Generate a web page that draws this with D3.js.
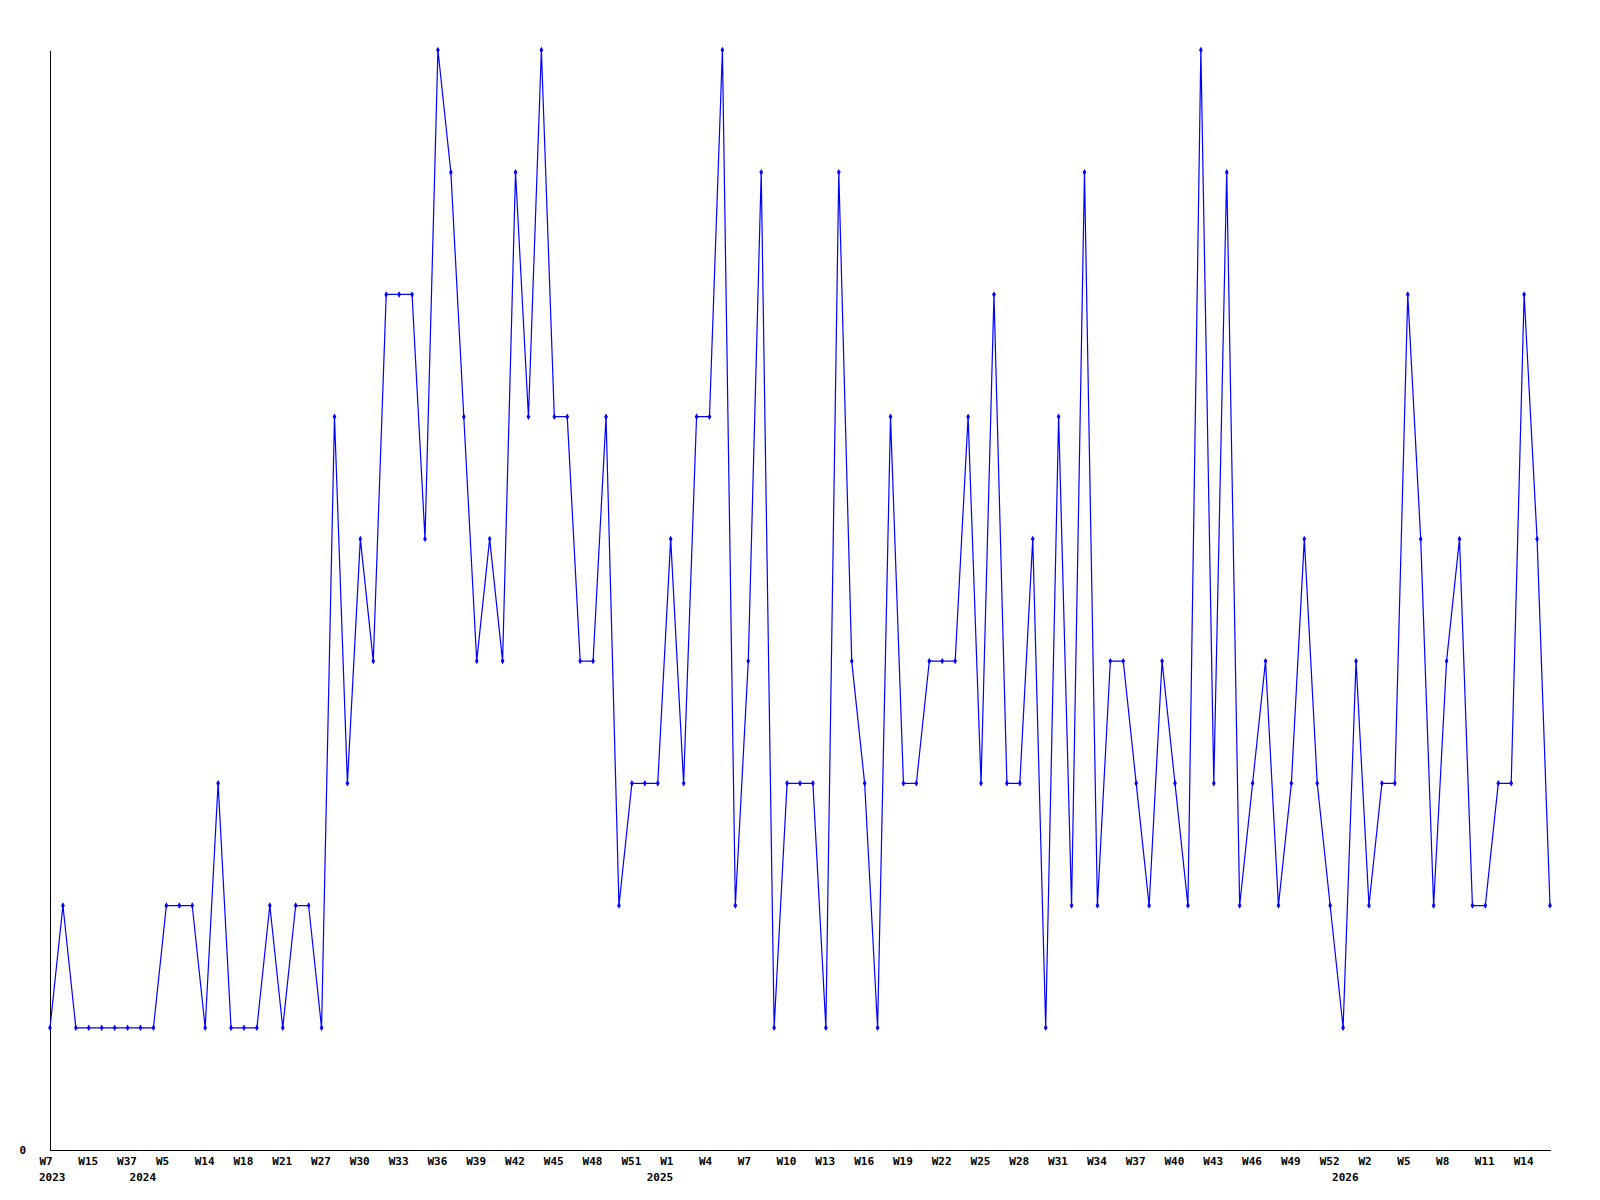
<!DOCTYPE html>
<html>
<head>
<meta charset="utf-8">
<script src="https://cdn.jsdelivr.net/npm/d3@7"></script>
<style>
  html, body { margin: 0; padding: 0; background: #fff; }
  svg { display: block; }
  text { font-family: "DejaVu Sans Mono", monospace; font-weight: bold; font-size: 11px; fill: #000; }
</style>
</head>
<body>
<svg id="chart" width="1600" height="1200"></svg>
<script>
// Categories: year-week of each point (only every third is labelled on the axis)
const categories = [
  "2023-W7","2023-W9","2023-W12","2023-W15","2023-W20","2023-W28","2023-W37",
  "2024-W1","2024-W3","2024-W5","2024-W8","2024-W11","2024-W14","2024-W16","2024-W17","2024-W18","2024-W19","2024-W20","2024-W21","2024-W23","2024-W25",
  "2024-W27","2024-W28","2024-W29","2024-W30","2024-W31","2024-W32","2024-W33","2024-W34","2024-W35","2024-W36","2024-W37","2024-W38","2024-W39","2024-W40","2024-W41",
  "2024-W42","2024-W43","2024-W44","2024-W45","2024-W46","2024-W47","2024-W48","2024-W49","2024-W50","2024-W51","2024-W52",
  "2025-W0","2025-W1","2025-W2","2025-W3","2025-W4","2025-W5","2025-W6","2025-W7","2025-W8","2025-W9","2025-W10","2025-W11","2025-W12",
  "2025-W13","2025-W14","2025-W15","2025-W16","2025-W17","2025-W18","2025-W19","2025-W20","2025-W21","2025-W22","2025-W23","2025-W24",
  "2025-W25","2025-W26","2025-W27","2025-W28","2025-W29","2025-W30","2025-W31","2025-W32","2025-W33","2025-W34","2025-W35","2025-W36",
  "2025-W37","2025-W38","2025-W39","2025-W40","2025-W41","2025-W42","2025-W43","2025-W44","2025-W45","2025-W46","2025-W47","2025-W48",
  "2025-W49","2025-W50","2025-W51","2025-W52",
  "2026-W0","2026-W1","2026-W2","2026-W3","2026-W4","2026-W5","2026-W6","2026-W7","2026-W8","2026-W9","2026-W10","2026-W11",
  "2026-W12","2026-W13","2026-W14","2026-W15","2026-W16"
];

// Series values, one per category
const values = [
  1,2,1,1,1,1,1,1,1,2,2,2,1,3,1,1,1,2,1,2,2,1,
  6,3,5,4,7,7,7,5,9,8,6,4,5,4,8,6,9,6,6,4,4,6,
  2,3,3,3,5,3,6,6,9,2,4,8,1,3,3,3,1,8,4,3,1,6,
  3,3,4,4,4,6,3,7,3,3,5,1,6,2,8,2,4,4,3,2,4,3,
  2,9,3,8,2,3,4,2,3,5,3,2,1,4,2,3,3,7,5,2,4,5,
  2,2,3,3,7,5,2
];

// Tick labels: every third category is labelled
const tickEvery = 3;
// Year labels placed under the first point of each year
const yearLabels = ["2023","2024","2025","2026"];
// Y axis tick labels
const yTicks = [0];

const yMax = 9;

const svg = d3.select("#chart");
svg.append("rect").attr("width",1600).attr("height",1200).attr("fill","#fff");

const x = d3.scalePoint().domain(categories).range([50, 1550]);
const y = d3.scaleLinear().domain([0, yMax]).range([1150, 50]);

// X axis
const xTickVals = categories.filter((c, i) => i % tickEvery === 0);
const xAxis = d3.axisBottom(x)
  .tickValues(xTickVals)
  .tickSize(0)
  .tickFormat(c => c.split("-")[1]);
const gx = svg.append("g").attr("transform", "translate(0,1150)").call(xAxis);
gx.select(".domain").attr("stroke", "#000").attr("stroke-width", 1).attr("shape-rendering", "crispEdges");
gx.selectAll(".tick text")
  .attr("text-anchor", "start")
  .attr("x", -11)
  .attr("y", 15)
  .attr("dy", null)
  .style("font-family", "DejaVu Sans Mono, monospace")
  .style("font-weight", "bold")
  .style("font-size", "11px");

// Year labels
const yearFirst = yearLabels.map(yr => categories.find(c => c.startsWith(yr)));
svg.append("g").selectAll("text")
  .data(yearFirst)
  .join("text")
  .attr("x", c => x(c) - 11)
  .attr("y", 1181)
  .attr("text-anchor", "start")
  .text(c => c.split("-")[0]);

// Y axis
const yAxis = d3.axisLeft(y).tickValues(yTicks).tickSize(0).tickFormat(d3.format("d"));
const gy = svg.append("g").attr("transform", "translate(50,0)").call(yAxis);
gy.select(".domain").attr("stroke", "#000").attr("stroke-width", 1).attr("shape-rendering", "crispEdges");
gy.selectAll(".tick text")
  .attr("x", -24)
  .attr("dy", "0.32em")
  .style("font-family", "DejaVu Sans Mono, monospace")
  .style("font-weight", "bold")
  .style("font-size", "11px");

// Line
const line = d3.line()
  .x((d, i) => x(categories[i]))
  .y(d => y(d));
svg.append("path")
  .datum(values)
  .attr("fill", "none")
  .attr("stroke", "#0000ff")
  .attr("stroke-width", 1.2)
  .attr("d", line);

// Markers
const sym = d3.symbol().type(d3.symbolDiamond).size(12);
svg.append("g").selectAll("path")
  .data(values)
  .join("path")
  .attr("transform", (d, i) => `translate(${x(categories[i])},${y(d)})`)
  .attr("d", sym)
  .attr("fill", "#0000ff");
</script>
</body>
</html>
